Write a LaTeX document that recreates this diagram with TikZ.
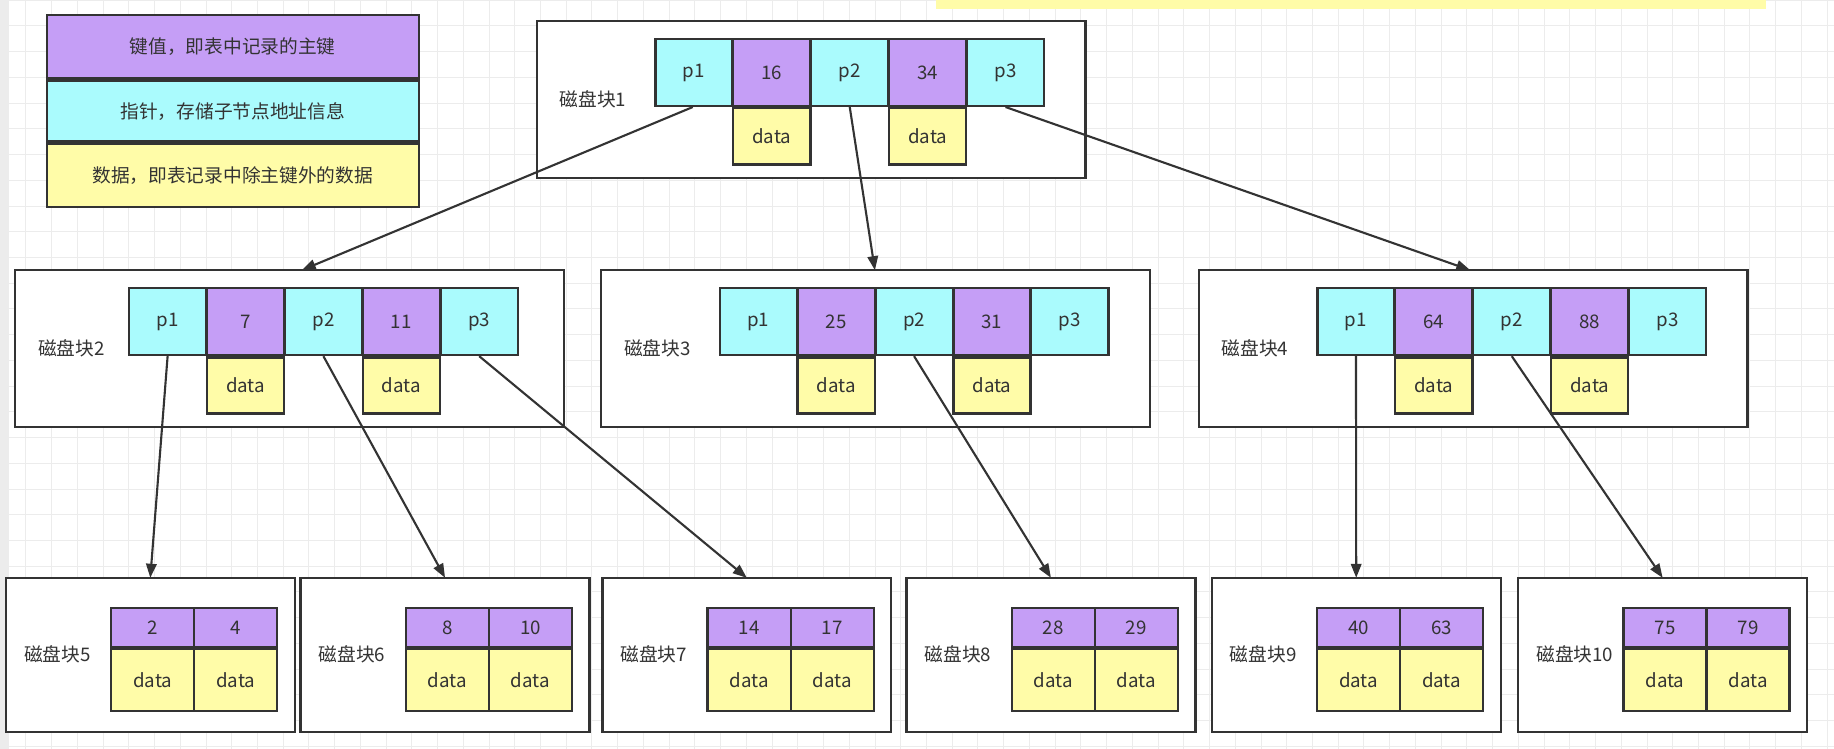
\documentclass[tikz,border=0pt]{standalone}
\usepackage{fontspec}
\setmainfont{Noto Sans CJK SC}
\usetikzlibrary{arrows.meta}
\definecolor{kp}{HTML}{C59EF6}
\definecolor{kc}{HTML}{AAFBFD}
\definecolor{ky}{HTML}{FFFCA8}
\definecolor{ink}{HTML}{333333}
\begin{document}
\begin{tikzpicture}[x=1pt,y=-1pt,
  cell/.style={draw=ink,line width=2pt,minimum width=66pt,minimum height=57pt,inner sep=0pt,text=ink,font=\fontsize{16}{18}\selectfont},
  pc/.style={cell,fill=kc},
  kc/.style={cell,fill=kp},
  dc/.style={cell,fill=ky,minimum height=48pt},
  lk/.style={cell,fill=kp,minimum width=71pt,minimum height=33pt},
  ld/.style={cell,fill=ky,minimum width=71pt,minimum height=53pt},
  blk/.style={draw=ink,line width=2pt,fill=white},
  lab/.style={text=ink,font=\fontsize{16}{18}\selectfont},
  leg/.style={draw=ink,line width=2pt,minimum width=318pt,inner sep=0pt,text=ink,font=\fontsize{16}{18}\selectfont},
  arr/.style={draw=ink,line width=1.8pt,-{Triangle[length=12pt,width=9pt]}}]
\useasboundingbox (0,0) rectangle (1568,640);
\fill[white] (0,0) rectangle (1568,640);
\fill[gray!15] (0,0) rectangle (8,640);
\draw[gray!15,line width=0.6pt,step=22pt] (8,0) grid (1568,640);
\fill[ky] (800,0) rectangle (1510,8);
% legend
\node[leg,fill=kp,minimum height=54pt,anchor=north west] (l1) at (39,12) {键值，即表中记录的主键};
\node[leg,fill=kc,minimum height=52pt,anchor=north] (l2) at (l1.south) {指针，存储子节点地址信息};
\node[leg,fill=ky,minimum height=54pt,anchor=north] (l3) at (l2.south) {数据，即表记录中除主键外的数据};
% internal blocks
\newcommand{\iblock}[7]{% #1 name, #2 x0, #3 y0, #4 cellx0, #5 label, #6 k1, #7 k2
  \draw[blk] (#2,#3) rectangle ++(469,134);
  \node[lab] (#1l) at (#2+48,#3+67) {#5};
  \node[pc] (#1a) at (#4+33.3,#3+44) {p1};
  \node[kc] (#1b) at (#4+99.9,#3+44) {#6};
  \node[pc] (#1c) at (#4+166.5,#3+44) {p2};
  \node[kc] (#1d) at (#4+233.1,#3+44) {#7};
  \node[pc] (#1e) at (#4+299.7,#3+44) {p3};
  \node[dc,anchor=north] (#1f) at (#1b.south) {data};
  \node[dc,anchor=north] (#1g) at (#1d.south) {data};
}
\iblock{A}{459}{18}{560}{磁盘块1}{16}{34}
\iblock{B}{13}{231}{110}{磁盘块2}{7}{11}
\iblock{C}{514}{231}{615}{磁盘块3}{25}{31}
\iblock{D}{1025}{231}{1126}{磁盘块4}{64}{88}
% leaves
\newcommand{\lblock}[6]{% name, x0, cellx0, label, k1, k2
  \draw[blk] (#2,494) rectangle ++(247,132);
  \node[lab,anchor=west] (#1l) at (#2+12,559) {#4};
  \node[lk] (#1a) at (#3+35.5,536.5) {#5};
  \node[lk] (#1b) at (#3+106.5,536.5) {#6};
  \node[ld,anchor=north] (#1c) at (#1a.south) {data};
  \node[ld,anchor=north] (#1d) at (#1b.south) {data};
  \coordinate (#1t) at (#2+123.5,494);
}
\lblock{E}{5}{95}{磁盘块5}{2}{4}
\lblock{F}{257}{347}{磁盘块6}{8}{10}
\lblock{G}{515}{605}{磁盘块7}{14}{17}
\lblock{H}{775}{865}{磁盘块8}{28}{29}
\lblock{I}{1036}{1126}{磁盘块9}{40}{63}
\lblock{J}{1298}{1388}{磁盘块10}{75}{79}
\coordinate (Bt) at (258,231);
\coordinate (Ct) at (748,231);
\coordinate (Dt) at (1257,231);
\draw[arr] ([xshift=-1pt]Aa.south) -- (Bt);
\draw[arr] (Ac.south) -- (Ct);
\draw[arr] (Ae.south) -- (Dt);
\draw[arr] (Ba.south) -- (Et);
\draw[arr] (Bc.south) -- (Ft);
\draw[arr] (Be.south) -- (Gt);
\draw[arr] (Cc.south) -- (Ht);
\draw[arr] (Da.south) -- (It);
\draw[arr] (Dc.south) -- (Jt);
\end{tikzpicture}
\end{document}
